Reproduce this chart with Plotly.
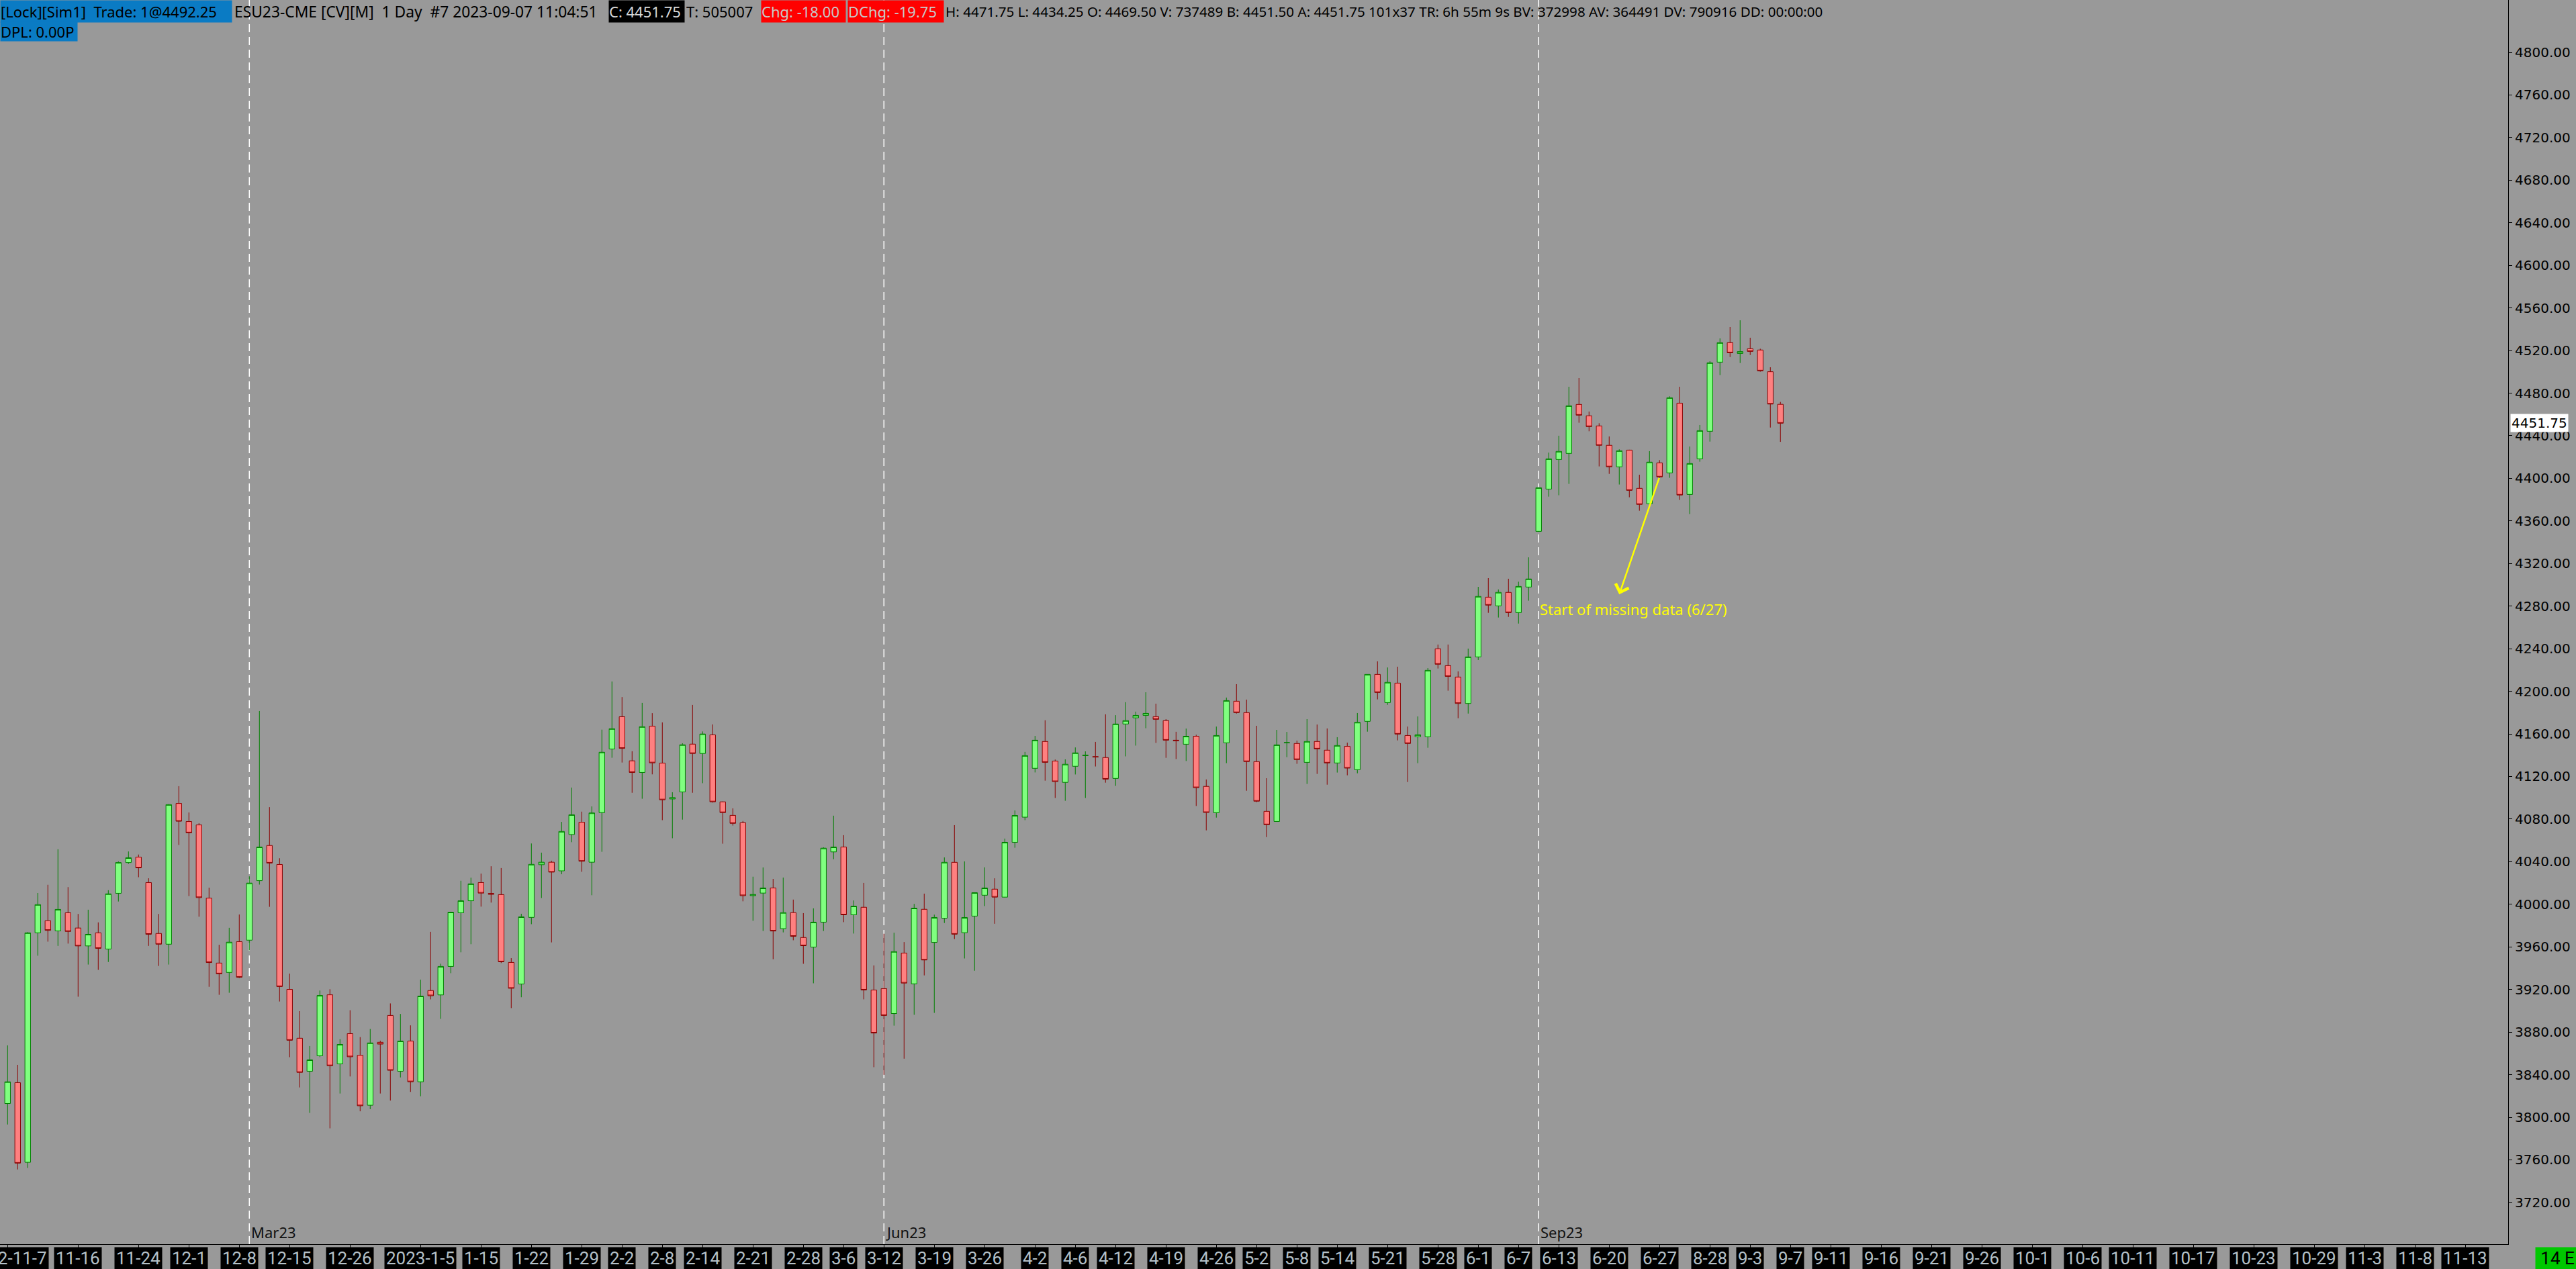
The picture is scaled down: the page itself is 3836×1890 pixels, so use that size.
import plotly.graph_objects as go

# ---------------- data (daily ES candles) ----------------
opens = [3812.9, 3832.5, 3757.7, 3973.2, 3984.6, 3975.0, 3992.0, 3977.7, 3960.9, 3973.2,
         3958.0, 4010.3, 4039.2, 4044.3, 4020.4, 3972.6, 3962.5, 4094.7, 4077.7, 4074.5,
         4005.8, 3944.8, 3936.0, 3964.9, 3966.3, 4022.2, 4055.2, 4037.4, 3920.1, 3874.2,
         3843.2, 3857.7, 3915.0, 3850.1, 3878.5, 3858.2, 3811.3, 3870.4, 3895.6, 3843.2,
         3871.6, 3833.3, 3919.0, 3914.9, 3941.6, 3992.0, 4003.3, 4020.4, 4010.2, 4009.1,
         3945.4, 3925.1, 3987.7, 4037.2, 4039.5, 4031.4, 4065.5, 4077.1, 4039.5, 4086.1,
         4145.8, 4176.1, 4134.7, 4123.8, 4167.3, 4132.6, 4098.9, 4105.5, 4150.4, 4141.6,
         4159.1, 4096.2, 4083.5, 4076.6, 4008.1, 4010.5, 4015.3, 3977.1, 3992.2, 3968.8,
         3959.8, 3983.2, 4049.2, 4053.8, 3990.1, 3997.2, 3919.5, 3920.8, 3897.4, 3954.2,
         3925.3, 3995.3, 3964.2, 3986.9, 4039.4, 3973.3, 3988.9, 4008.5, 4014.2, 4006.7,
         4058.2, 4081.8, 4127.7, 4152.9, 4134.5, 4114.5, 4129.6, 4139.6, 4138.75, 4137.8,
         4118.2, 4169.3, 4175.1, 4177.4, 4176.2, 4172.5, 4154.1, 4150.3, 4157.8, 4110.7,
         4086.0, 4151.6, 4190.7, 4180.0, 4134.0, 4087.3, 4077.8, 4151.6, 4151.0, 4133.3,
         4152.9, 4144.7, 4132.7, 4148.3, 4126.4, 4171.8, 4215.9, 4189.4, 4207.7, 4158.5,
         4157.3, 4157.3, 4239.9, 4224.1, 4213.4, 4188.6, 4232.3, 4288.4, 4280.2, 4292.9,
         4273.9, 4297.9, 4350.2, 4389.9, 4417.7, 4423.4, 4469.4, 4458.7, 4449.2, 4431.0,
         4410.8, 4426.5, 4390.6, 4376.1, 4414.5, 4405.1, 4470.6, 4384.9, 4418.3, 4444.2,
         4509.1, 4527.4, 4517.3, 4521.7, 4520.5, 4500.1, 4469.5]
highs = [3867.5, 3849.2, 3973.9, 4010.6, 4018.3, 4051.7, 4016.1, 3990.9, 3994.9, 3983.0,
         4013.2, 4040.3, 4049.6, 4046.7, 4024.4, 3990.9, 4094.0, 4110.9, 4086.2, 4076.1,
         4015.6, 3962.0, 3977.9, 3990.4, 4026.2, 4181.5, 4091.2, 4043.2, 3934.9, 3899.6,
         3866.9, 3919.0, 3920.2, 3873.3, 3900.5, 3875.3, 3882.9, 3871.9, 3906.9, 3897.0,
         3886.3, 3929.2, 3974.1, 3944.2, 3993.0, 4022.1, 4025.0, 4028.8, 4035.7, 4034.0,
         3949.4, 3991.1, 4057.1, 4048.5, 4040.9, 4077.4, 4109.6, 4087.0, 4091.9, 4164.0,
         4209.2, 4194.6, 4143.7, 4189.1, 4179.5, 4170.8, 4105.2, 4151.2, 4187.2, 4162.3,
         4168.9, 4096.5, 4090.1, 4078.2, 4025.9, 4034.6, 4023.8, 4025.1, 4004.4, 3991.7,
         3996.2, 4053.5, 4083.2, 4064.9, 4003.6, 4020.1, 3942.6, 3972.3, 3973.3, 3964.5,
         4000.4, 4010.0, 3990.3, 4044.0, 4074.3, 4040.3, 4011.0, 4034.7, 4024.4, 4061.7,
         4088.1, 4143.1, 4158.1, 4172.8, 4135.9, 4136.1, 4147.3, 4143.6, 4152.5, 4178.4,
         4177.6, 4189.8, 4180.9, 4199.1, 4188.4, 4173.9, 4162.0, 4165.0, 4159.2, 4117.2,
         4166.9, 4194.1, 4206.7, 4192.2, 4167.6, 4118.4, 4163.8, 4161.9, 4153.7, 4173.9,
         4168.8, 4165.1, 4156.9, 4151.8, 4179.6, 4216.0, 4228.1, 4222.4, 4223.1, 4166.9,
         4176.4, 4221.8, 4243.9, 4243.9, 4218.7, 4240.1, 4298.1, 4306.3, 4295.6, 4305.7,
         4302.9, 4325.8, 4391.6, 4424.2, 4440.0, 4486.0, 4494.2, 4462.7, 4451.7, 4439.3,
         4427.2, 4426.8, 4403.4, 4425.5, 4417.1, 4477.0, 4486.0, 4429.9, 4450.1, 4510.0,
         4531.4, 4542.1, 4548.4, 4532.0, 4521.7, 4504.3, 4471.75]
lows = [3793.2, 3751.0, 3752.4, 3951.7, 3964.9, 3960.9, 3963.1, 3913.2, 3943.4, 3938.4,
        3945.8, 4002.6, 4037.9, 4025.4, 3960.9, 3942.1, 3943.4, 4055.7, 4007.7, 3988.3,
        3922.5, 3915.0, 3916.9, 3930.7, 3956.7, 4018.5, 3997.6, 3908.7, 3856.4, 3828.0,
        3804.1, 3856.5, 3789.6, 3822.3, 3838.3, 3805.6, 3807.6, 3822.3, 3815.7, 3837.4,
        3823.8, 3819.7, 3910.7, 3892.4, 3935.3, 3954.9, 3962.5, 3997.8, 4001.6, 3944.8,
        3902.5, 3912.7, 3981.3, 4005.9, 3964.2, 4028.2, 4058.3, 4030.5, 4008.5, 4049.3,
        4137.6, 4133.1, 4104.7, 4099.1, 4122.0, 4079.0, 4062.0, 4079.5, 4104.7, 4113.7,
        4095.5, 4056.9, 4073.9, 4002.8, 3984.5, 3974.9, 3948.4, 3973.6, 3966.2, 3944.1,
        3925.8, 3974.9, 4042.3, 3983.2, 3972.5, 3910.7, 3847.0, 3839.8, 3886.0, 3855.0,
        3896.2, 3933.2, 3898.0, 3982.4, 3967.3, 3949.1, 3937.6, 3998.3, 3981.7, 4006.5,
        4053.1, 4079.0, 4123.8, 4116.1, 4099.8, 4097.2, 4121.9, 4099.8, 4129.4, 4114.2,
        4111.2, 4138.9, 4149.0, 4165.3, 4151.5, 4137.5, 4136.4, 4134.5, 4092.3, 4069.4,
        4081.4, 4132.5, 4179.1, 4106.6, 4095.9, 4063.1, 4077.5, 4138.1, 4131.9, 4113.0,
        4122.4, 4112.3, 4123.7, 4121.1, 4123.0, 4162.1, 4192.4, 4187.3, 4153.9, 4114.8,
        4132.5, 4147.0, 4221.4, 4200.6, 4174.7, 4179.1, 4229.4, 4273.7, 4269.3, 4269.9,
        4263.6, 4285.1, 4349.8, 4382.8, 4384.1, 4394.8, 4452.2, 4444.2, 4411.2, 4404.2,
        4394.2, 4382.2, 4369.6, 4375.8, 4400.5, 4400.5, 4379.7, 4366.4, 4415.6, 4434.5,
        4496.9, 4513.9, 4508.3, 4515.8, 4500.1, 4447.7, 4434.25]
closes = [3833.3, 3756.9, 3973.2, 3999.7, 3975.5, 3995.2, 3974.5, 3960.9, 3971.8, 3958.6,
          4009.8, 4039.2, 4043.7, 4034.2, 3971.8, 3962.5, 4093.6, 4078.0, 4067.1, 4006.3,
          3945.3, 3934.7, 3964.4, 3931.5, 4019.9, 4053.8, 4038.7, 3922.7, 3872.3, 3842.1,
          3853.9, 3914.4, 3848.4, 3868.4, 3856.8, 3810.8, 3869.8, 3868.7, 3844.1, 3871.6,
          3833.3, 3913.8, 3914.1, 3941.6, 3992.6, 4003.3, 4019.2, 4010.5, 4009.4, 3946.0,
          3921.1, 3988.2, 4037.5, 4039.5, 4030.2, 4068.4, 4084.1, 4040.4, 4085.8, 4142.8,
          4164.9, 4146.4, 4123.8, 4166.8, 4132.8, 4098.1, 4100.2, 4149.8, 4141.6, 4159.9,
          4096.2, 4086.1, 4076.0, 4008.1, 4009.2, 4015.3, 3974.9, 3992.2, 3969.9, 3961.1,
          3983.2, 4052.7, 4053.8, 3990.1, 3998.3, 3919.5, 3879.1, 3895.6, 3955.6, 3926.0,
          3996.4, 3947.7, 3987.6, 4039.4, 3971.9, 3987.6, 4010.9, 4015.3, 4006.7, 4058.2,
          4083.4, 4139.6, 4154.1, 4133.3, 4115.2, 4131.5, 4142.2, 4140.0, 4138.25, 4117.5,
          4169.3, 4172.5, 4177.4, 4179.3, 4173.7, 4154.1, 4153.6, 4157.8, 4109.5, 4086.2,
          4158.5, 4191.3, 4180.0, 4134.0, 4096.8, 4074.7, 4149.7, 4151.8, 4135.9, 4152.9,
          4145.9, 4132.7, 4149.1, 4127.9, 4170.9, 4215.9, 4198.9, 4208.4, 4159.8, 4151.0,
          4159.2, 4219.7, 4225.4, 4214.0, 4188.6, 4232.3, 4289.1, 4280.9, 4292.9, 4273.9,
          4298.5, 4305.5, 4391.2, 4418.3, 4425.3, 4468.1, 4459.3, 4448.6, 4431.0, 4410.8,
          4425.9, 4388.7, 4375.5, 4415.2, 4401.3, 4475.7, 4384.3, 4413.9, 4444.8, 4508.5,
          4527.4, 4517.9, 4519.0, 4519.2, 4500.9, 4469.75, 4451.75]
bar_no = list(range(len(opens)))

# bottom time-axis labels and the bar slot each one sits on
tick_pos = [0, 7, 13, 18, 23, 28, 34, 41, 47, 52, 57, 61, 65, 69, 74, 79, 83, 87, 92, 97,
            102, 106, 110, 115, 120, 124, 128, 132, 137, 142, 146, 150, 154, 159, 164, 169,
            173, 177, 181, 186, 191, 196, 201, 206, 211, 217, 223, 229, 234, 239, 244]
tick_labels = ["2022-11-7", "11-16", "11-24", "12-1", "12-8", "12-15", "12-26", "2023-1-5",
               "1-15", "1-22", "1-29", "2-2", "2-8", "2-14", "2-21", "2-28", "3-6", "3-12",
               "3-19", "3-26", "4-2", "4-6", "4-12", "4-19", "4-26", "5-2", "5-8", "5-14",
               "5-21", "5-28", "6-1", "6-7", "6-13", "6-20", "6-27", "8-28", "9-3", "9-7",
               "9-11", "9-16", "9-21", "9-26", "10-1", "10-6", "10-11", "10-17", "10-23",
               "10-29", "11-3", "11-8", "11-13"]

# contract roll markers
roll_pos = [24, 87, 152]
roll_labels = ["Mar23", "Jun23", "Sep23"]

price_ticks = [3720, 3760, 3800, 3840, 3880, 3920, 3960, 4000, 4040, 4080, 4120, 4160, 4200,
               4240, 4280, 4320, 4360, 4400, 4440, 4480, 4520, 4560, 4600, 4640, 4680, 4720,
               4760, 4800]

last_price = 4451.75
missing_bar = 164
note_text = "Start of missing data (6/27)"

# ---------------- geometry of the window ----------------
W, H = 3836, 1890
ML, MR, MT, MB = 0, 101, 0, 37
PW = W - ML - MR  # plot width in px

BG = "#999999"
HEAD_FONT = "Noto Sans"

fig = go.Figure(go.Candlestick(
    x=bar_no, open=opens, high=highs, low=lows, close=closes,
    increasing=dict(fillcolor="#80FF80", line=dict(color="#008000", width=1)),
    decreasing=dict(fillcolor="#FF8080", line=dict(color="#8B0000", width=1)),
    whiskerwidth=0, hoverinfo="skip", showlegend=False,
))

shapes = []
annotations = []

# roll lines + labels
for p, lbl in zip(roll_pos, roll_labels):
    shapes.append(dict(type="line", xref="x", yref="paper", x0=p, x1=p, y0=0, y1=1,
                       line=dict(color="white", width=1.5, dash="12px,7px"), layer="below"))
    annotations.append(dict(x=p, xref="x", y=0, yref="paper", xanchor="left", yanchor="bottom",
                            xshift=1, yshift=1, text=lbl, showarrow=False,
                            font=dict(family=HEAD_FONT, size=22, color="#111111")))

# bottom date labels in black boxes
for p, lbl in zip(tick_pos, tick_labels):
    annotations.append(dict(x=p, xref="x", y=0, yref="paper", xanchor="center", yanchor="top",
                            yshift=-4, text=lbl, showarrow=False, bgcolor="black",
                            borderpad=2, height=28,
                            font=dict(family="Liberation Sans Narrow, Roboto", size=26,
                                      color="#b4c0c8")))

# green status box bottom-right
annotations.append(dict(x=1, xref="paper", y=0, yref="paper", xanchor="left", yanchor="top",
                        xshift=40, yshift=-4, text="14 E", showarrow=False, bgcolor="#00C800",
                        width=61, height=28, borderpad=2,
                        font=dict(family="Liberation Sans Narrow, Roboto", size=26, color="black")))

# current price label on the price scale
annotations.append(dict(x=1, xref="paper", y=last_price, yref="y", xanchor="left",
                        yanchor="middle", xshift=3, text=f"{last_price:.2f}", showarrow=False,
                        bgcolor="white", borderpad=1,
                        font=dict(family="DejaVu Sans", size=20, color="black")))

# missing data note: arrow from the 6/27 bar down to the text
annotations.append(dict(x=160, y=4291, xref="x", yref="y", ax=missing_bar,
                        ay=closes[missing_bar], axref="x", ayref="y", text="",
                        showarrow=True, arrowhead=4, arrowsize=1.6, arrowwidth=2.5,
                        arrowcolor="#FFFF00"))
annotations.append(dict(x=152, xref="x", y=4277, yref="y", xanchor="left", yanchor="middle",
                        text=note_text, showarrow=False,
                        font=dict(family=HEAD_FONT, size=22, color="#FFFF00")))

# header strip: (text, left px, box width, background, text colour, font size)
header = [
    ("[Lock][Sim1]\u00a0 Trade: 1@4492.25", 0, 344, "#0A7BC4", "black", 22),
    ("ESU23-CME [CV][M]\u00a0 1 Day\u00a0 #7 2023-09-07 11:04:51", 348, None, None, "black", 22.8),
    ("C: 4451.75", 906, 112, "black", "#d8d8d8", 22),
    ("T: 505007", 1021, None, None, "black", 22),
    ("Chg: -18.00", 1133, 125, "#FF0000", "#c8c8c8", 22),
    ("DChg: -19.75", 1262, 142, "#FF0000", "#c8c8c8", 22),
    ("H: 4471.75 L: 4434.25 O: 4469.50 V: 737489 B: 4451.50 A: 4451.75 101x37 TR: 6h 55m 9s "
     "BV: 372998 AV: 364491 DV: 790916 DD: 00:00:00", 1407, None, None, "black", 20.6),
]
for txt, x0, w, bg, col, fs in header:
    a = dict(x=x0 / PW, xref="paper", y=1, yref="paper", xanchor="left", yanchor="top",
             text=txt, showarrow=False, align="left", borderpad=0,
             font=dict(family=HEAD_FONT, size=fs, color=col))
    if bg:
        a.update(bgcolor=bg, width=w, height=32)
    else:
        a.update(height=32)
    annotations.append(a)
annotations.append(dict(x=0, xref="paper", y=1, yref="paper", xanchor="left", yanchor="top",
                        yshift=-32, text="DPL: 0.00P", showarrow=False, align="left",
                        bgcolor="#0A7BC4", width=114, height=28, borderpad=0,
                        font=dict(family=HEAD_FONT, size=22, color="black")))

fig.update_layout(
    width=W, height=H, margin=dict(l=ML, r=MR, t=MT, b=MB, pad=0),
    paper_bgcolor=BG, plot_bgcolor=BG, showlegend=False,
    boxgap=0.26, boxgroupgap=0.25,
    shapes=shapes, annotations=annotations,
    xaxis=dict(range=[-0.753, 248.25], showgrid=False, zeroline=False, showline=True,
               linecolor="black", linewidth=1, ticks="outside", ticklen=4, tickcolor="black",
               tickvals=tick_pos, showticklabels=False, rangeslider=dict(visible=False),
               fixedrange=True),
    yaxis=dict(side="right", range=[3680.83, 4849.18], tickvals=price_ticks, tickformat=".2f",
               ticks="outside", ticklen=5, tickcolor="black", showline=True, linecolor="black",
               linewidth=1, mirror=True, showgrid=False, zeroline=False, fixedrange=True,
               tickfont=dict(family="DejaVu Sans", size=20, color="black")),
)

fig.write_html("out.html", config={"displayModeBar": False},
               post_script="document.body.style.margin='0';document.body.style.overflow='hidden';")
